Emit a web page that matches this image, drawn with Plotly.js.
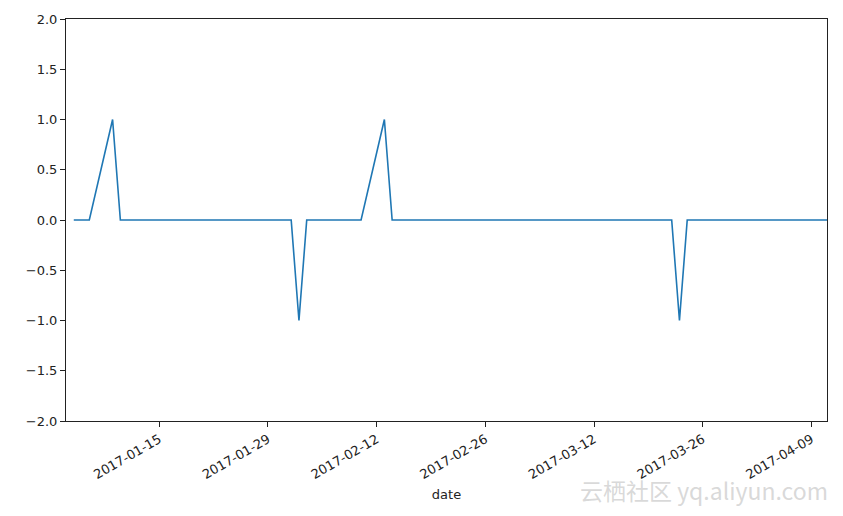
<!DOCTYPE html>
<html>
<head>
<meta charset="utf-8">
<script src="https://cdn.plot.ly/plotly-3.0.1.min.js"></script>
<style>html,body{margin:0;padding:0;background:#fff;}#chart{width:843px;height:516px;}</style>
</head>
<body>
<div id="chart"></div>
<script>
// Trading dates (US market), 2017-01-03 .. 2017-04-11
const dates = [
  "2017-01-03","2017-01-04","2017-01-05","2017-01-06","2017-01-09","2017-01-10","2017-01-11","2017-01-12","2017-01-13",
  "2017-01-17","2017-01-18","2017-01-19","2017-01-20","2017-01-23","2017-01-24","2017-01-25","2017-01-26","2017-01-27",
  "2017-01-30","2017-01-31","2017-02-01","2017-02-02","2017-02-03","2017-02-06","2017-02-07","2017-02-08","2017-02-09",
  "2017-02-10","2017-02-13","2017-02-14","2017-02-15","2017-02-16","2017-02-17","2017-02-21","2017-02-22","2017-02-23",
  "2017-02-24","2017-02-27","2017-02-28","2017-03-01","2017-03-02","2017-03-03","2017-03-06","2017-03-07","2017-03-08",
  "2017-03-09","2017-03-10","2017-03-13","2017-03-14","2017-03-15","2017-03-16","2017-03-17","2017-03-20","2017-03-21",
  "2017-03-22","2017-03-23","2017-03-24","2017-03-27","2017-03-28","2017-03-29","2017-03-30","2017-03-31","2017-04-03",
  "2017-04-04","2017-04-05","2017-04-06","2017-04-07","2017-04-10","2017-04-11"
];
// Position signal values (first value missing)
const positions = [
  null,0,0,0,1,0,0,0,0,
  0,0,0,0,0,0,0,0,0,
  0,0,0,-1,0,0,0,0,0,
  0,1,0,0,0,0,0,0,0,
  0,0,0,0,0,0,0,0,0,
  0,0,0,0,0,0,0,0,0,
  0,-1,0,0,0,0,0,0,0,
  0,0,0,0,0,0
];
const xTickVals = ["2017-01-15","2017-01-29","2017-02-12","2017-02-26","2017-03-12","2017-03-26","2017-04-09"];
const yTickVals = [-2,-1.5,-1,-0.5,0,0.5,1,1.5,2];
const xTitle = "date";
const watermark = "云栖社区 yq.aliyun.com";

const trace = {
  x: dates, y: positions, type: "scatter", mode: "lines",
  line: {color: "#1f77b4", width: 1.6}, connectgaps: false, hoverinfo: "skip"
};

const font = {family: "DejaVu Sans, sans-serif", size: 13, color: "#222"};
const layout = {
  width: 843, height: 516,
  margin: {l: 66, r: 16, t: 19, b: 95},
  paper_bgcolor: "#fff", plot_bgcolor: "#fff",
  showlegend: false,
  font: font,
  xaxis: {
    type: "date",
    range: ["2017-01-03", "2017-04-11"],
    tickvals: xTickVals,
    ticktext: xTickVals,
    tickangle: -30,
    ticks: "outside", ticklen: 5, tickwidth: 1, tickcolor: "#222",
    showline: true, linecolor: "#222", linewidth: 1, mirror: true,
    showgrid: false, zeroline: false,
    tickfont: font,
    title: {text: xTitle, font: font, standoff: 8}
  },
  yaxis: {
    range: [-2, 2],
    tickvals: yTickVals,
    tickformat: ".1f",
    ticks: "outside", ticklen: 5, tickwidth: 1, tickcolor: "#222",
    showline: true, linecolor: "#222", linewidth: 1, mirror: true,
    showgrid: false, zeroline: false,
    tickfont: font
  },
  annotations: [{
    text: watermark, xref: "paper", yref: "paper",
    x: 1.004, y: -0.172, xanchor: "right", yanchor: "middle",
    showarrow: false,
    font: {family: "Noto Sans CJK SC, DejaVu Sans, sans-serif", size: 23, color: "rgba(200,200,200,0.7)"}
  }]
};

Plotly.newPlot("chart", [trace], layout, {staticPlot: true, displayModeBar: false});
</script>
</body>
</html>
